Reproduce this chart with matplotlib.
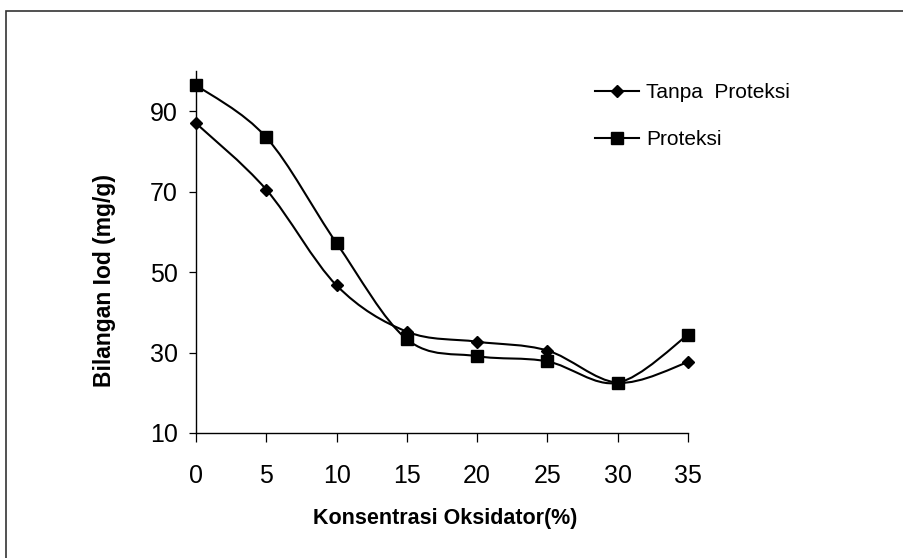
import matplotlib
matplotlib.use("Agg")
import matplotlib.pyplot as plt
from matplotlib.path import Path
from matplotlib.patches import PathPatch, Rectangle
from matplotlib.lines import Line2D

plt.rcParams["font.family"] = ["Liberation Sans", "DejaVu Sans"]

# data
konsentrasi = [0, 5, 10, 15, 20, 25, 30, 35]
tanpa_proteksi = [87.0, 70.5, 46.7, 35.2, 32.7, 30.5, 22.5, 27.6]
proteksi = [96.5, 83.5, 57.2, 33.3, 29.1, 27.8, 22.5, 34.4]
series_labels = ["Tanpa  Proteksi", "Proteksi"]


def smooth_path(xs, ys):
    # Excel-style smoothed line: cubic Bezier through every point
    pts = list(zip(xs, ys))
    verts = [pts[0]]
    codes = [Path.MOVETO]
    n = len(pts)
    for i in range(n - 1):
        p0 = pts[i - 1] if i > 0 else pts[i]
        p1 = pts[i]
        p2 = pts[i + 1]
        p3 = pts[i + 2] if i + 2 < n else pts[i + 1]
        c1 = (p1[0] + (p2[0] - p0[0]) / 6, p1[1] + (p2[1] - p0[1]) / 6)
        c2 = (p2[0] - (p3[0] - p1[0]) / 6, p2[1] - (p3[1] - p1[1]) / 6)
        verts += [c1, c2, p2]
        codes += [Path.CURVE4] * 3
    return Path(verts, codes)


fig = plt.figure(figsize=(9.04, 5.58), dpi=100)
ax = fig.add_axes([196 / 904, 1 - 433 / 558, 492 / 904, 362 / 558])

# outer frame (cut off on the right and bottom, like the source)
fig.patches.append(Rectangle((6 / 904, -0.1), 1.2, 1 - 11 / 558 + 0.1,
                             transform=fig.transFigure, fill=False,
                             edgecolor="#333333", linewidth=1.2))

for ys, mk, ms in [(tanpa_proteksi, "D", 5.8), (proteksi, "s", 9)]:
    ax.add_patch(PathPatch(smooth_path(konsentrasi, ys), fill=False,
                           edgecolor="black", linewidth=1.5, zorder=2))
    ax.plot(konsentrasi, ys, linestyle="none", marker=mk, markersize=ms,
            color="black", zorder=3, clip_on=False)

ax.set_xlim(0, 35)
ax.set_ylim(10, 100)
ax.set_xticks(konsentrasi)
ax.set_yticks([10, 30, 50, 70, 90])

for side in ["top", "right"]:
    ax.spines[side].set_visible(False)
for side in ["left", "bottom"]:
    ax.spines[side].set_linewidth(1.0)

ax.tick_params(axis="x", direction="out", length=6.5, width=0.9,
               labelsize=18, pad=16)
ax.tick_params(axis="y", direction="out", length=5, width=0.9,
               labelsize=18, pad=8)

ax.set_xlabel("Konsentrasi Oksidator(%)", fontsize=15.5, fontweight="bold")
ax.xaxis.set_label_coords(0.507, -0.235)
ax.xaxis.label.set_va("center")
ax.set_ylabel("Bilangan Iod (mg/g)", fontsize=16.5, fontweight="bold")
ax.yaxis.set_label_coords(-0.185, 0.42)
ax.yaxis.label.set_va("center")

handles = [
    Line2D([], [], color="black", linewidth=1.5, marker="D", markersize=5.8),
    Line2D([], [], color="black", linewidth=1.5, marker="s", markersize=8),
]
fig.legend(handles, series_labels, loc="upper left",
           bbox_to_anchor=(595 / 904, 1 - 83 / 558),
           bbox_transform=fig.transFigure, frameon=False, fontsize=15,
           borderpad=0, borderaxespad=0, handlelength=2.1,
           handletextpad=0.35, labelspacing=1.35)

plt.savefig("out.png", dpi=100)
